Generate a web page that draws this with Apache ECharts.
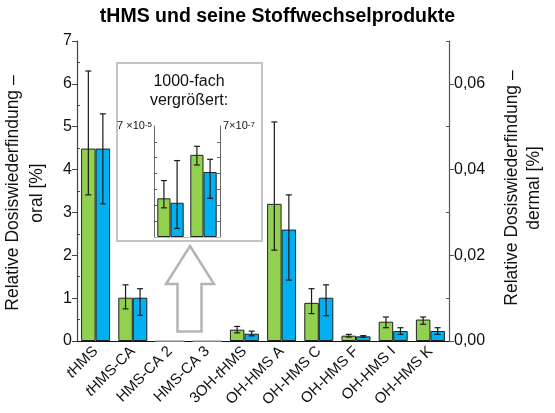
<!DOCTYPE html>
<html>
<head>
<meta charset="utf-8">
<script src="https://cdn.jsdelivr.net/npm/echarts@6/dist/echarts.min.js"></script>
<style>html,body{margin:0;padding:0;background:#fff}#c{width:555px;height:413px}</style>
</head>
<body>
<div id="c"></div>
<script>
const categories = ['tHMS','tHMS-CA','HMS-CA 2','HMS-CA 3','3OH-tHMS','OH-HMS A','OH-HMS C','OH-HMS F','OH-HMS I','OH-HMS K'];
const oralMean   = [4.49, 1.01, 2.44e-5, 5.18e-5, 0.264, 3.20, 0.89, 0.124, 0.45, 0.50];
const oralLow    = [3.41, 0.75, 1.84e-5, 4.54e-5, 0.19, 2.12, 0.64, 0.093, 0.31, 0.39];
const oralHigh   = [6.30, 1.31, 3.56e-5, 5.72e-5, 0.34, 5.11, 1.22, 0.155, 0.56, 0.56];
const dermalMean = [0.0449, 0.0101, 2.16e-7, 4.10e-7, 0.0017, 0.0260, 0.0101, 0.00109, 0.00233, 0.00233];
const dermalLow  = [0.0320, 0.0060, 0.54e-7, 2.44e-7, 0.0012, 0.0142, 0.0059, 0.00090, 0.00155, 0.00155];
const dermalHigh = [0.0530, 0.0122, 4.82e-7, 4.90e-7, 0.0023, 0.0341, 0.0131, 0.00125, 0.0031, 0.0031];
const insetIdx = [2, 3];
const leftMajorTicks = [0,1,2,3,4,5,6,7];
const leftMinorTicks = [0.5,1.5,2.5,3.5,4.5,5.5,6.5];
const rightMajorTicks = [0, 0.02, 0.04, 0.06];
const rightMinorTicks = [0.01, 0.03, 0.05, 0.07];
const insetOralMax = 7e-5;
const insetDermalMax = 7e-7;
const insetTickUnits = [1,2,3,4,5,6];

const FONT = '"Liberation Sans", Arial, sans-serif';
const GREEN = '#92d050', BLUE = '#00b0f0';
const BAR_FRAC = 0.39, INSET_FRAC = 0.40;

function errRender(side, frac, skip) {
  return function (params, api) {
    const idx = api.value(0);
    if (skip && skip.indexOf(idx) >= 0) return null;
    const lo = api.coord([idx, api.value(1)]);
    const hi = api.coord([idx, api.value(2)]);
    const band = api.size([1, 0])[0];
    const x = lo[0] + side * band * frac / 2;
    const cap = 3;
    const style = { stroke: '#1a1a1a', lineWidth: 1.2 };
    return { type: 'group', children: [
      { type: 'line', shape: { x1: x, y1: lo[1], x2: x, y2: hi[1] }, style },
      { type: 'line', shape: { x1: x - cap, y1: hi[1], x2: x + cap, y2: hi[1] }, style },
      { type: 'line', shape: { x1: x - cap, y1: lo[1], x2: x + cap, y2: lo[1] }, style }
    ]};
  };
}

const mainOral = oralMean.map((v, i) => insetIdx.includes(i) ? { value: v, itemStyle: { borderColor: '#b0b0b0' } } : v);
const mainDermal = dermalMean.map((v, i) => insetIdx.includes(i) ? { value: v, itemStyle: { borderColor: '#b0b0b0' } } : v);

const chart = echarts.init(document.getElementById('c'), null, { renderer: 'canvas' });
chart.setOption({
  animation: false,
  textStyle: { fontFamily: FONT },
  title: { text: 'tHMS und seine Stoffwechselprodukte', left: 'center', top: 2,
    textStyle: { fontFamily: FONT, fontSize: 19.5, fontWeight: 'bold', color: '#000' } },
  grid: [
    { left: 77, top: 41, width: 372, height: 300 },
    { left: 154, top: 126, width: 66, height: 111 }
  ],
  xAxis: [
    { type: 'category', gridIndex: 0, data: categories,
      axisLine: { lineStyle: { color: '#111', width: 1.2 } },
      axisTick: { show: false },
      axisLabel: { rotate: 45, margin: 8, fontSize: 15, color: '#111', fontFamily: FONT, interval: 0,
        formatter: v => v.replace(/(^|-)t(?=HMS)/, '$1{i|t}'),
        rich: { i: { fontStyle: 'italic', fontSize: 15, color: '#111', fontFamily: FONT } } } },
    { type: 'category', gridIndex: 1, data: insetIdx.map(i => categories[i]),
      axisLine: { lineStyle: { color: '#bbb', width: 1 } },
      axisTick: { show: false }, axisLabel: { show: false } }
  ],
  yAxis: [
    { type: 'value', gridIndex: 0, position: 'left', min: 0, max: 7, interval: 1,
      splitLine: { show: false },
      axisLine: { show: true, lineStyle: { color: '#444', width: 1.2 } },
      axisTick: { show: true, length: 5, lineStyle: { color: '#444' } },
      axisLabel: { fontSize: 16, color: '#111', margin: 5, fontFamily: FONT, customValues: leftMajorTicks } },
    { type: 'value', gridIndex: 0, position: 'right', min: 0, max: 0.07,
      splitLine: { show: false },
      axisLine: { show: true, lineStyle: { color: '#555', width: 1.2 } },
      axisTick: { show: true, length: 5, lineStyle: { color: '#555' }, customValues: rightMajorTicks },
      axisLabel: { fontSize: 16, color: '#111', margin: 5, fontFamily: FONT, customValues: rightMajorTicks,
        formatter: v => v.toFixed(2).replace('.', ',') } },
    { type: 'value', gridIndex: 0, position: 'left', min: 0, max: 7,
      splitLine: { show: false }, axisLine: { show: false },
      axisTick: { show: true, inside: true, length: 3, lineStyle: { color: '#444' }, customValues: leftMinorTicks },
      axisLabel: { show: false } },
    { type: 'value', gridIndex: 0, position: 'right', min: 0, max: 0.07,
      splitLine: { show: false }, axisLine: { show: false },
      axisTick: { show: true, inside: true, length: 3, lineStyle: { color: '#555' }, customValues: rightMinorTicks },
      axisLabel: { show: false } },
    { type: 'value', gridIndex: 1, position: 'left', min: 0, max: insetOralMax,
      splitLine: { show: false },
      axisLine: { show: true, lineStyle: { color: '#666', width: 1 } },
      axisTick: { show: true, inside: true, length: 3, lineStyle: { color: '#666' },
        customValues: insetTickUnits.map(u => u * insetOralMax / 7) },
      axisLabel: { customValues: [insetOralMax], margin: 2, color: '#111', fontFamily: FONT,
        formatter: () => '{b|7 ×10}{s|-5}',
        rich: { b: { fontSize: 11, color: '#111', fontFamily: FONT }, s: { fontSize: 8, color: '#111', fontFamily: FONT, verticalAlign: 'top' } } } },
    { type: 'value', gridIndex: 1, position: 'right', min: 0, max: insetDermalMax,
      splitLine: { show: false },
      axisLine: { show: true, lineStyle: { color: '#666', width: 1 } },
      axisTick: { show: true, inside: true, length: 3, lineStyle: { color: '#666' },
        customValues: insetTickUnits.map(u => u * insetDermalMax / 7) },
      axisLabel: { customValues: [insetDermalMax], margin: 3, color: '#111', fontFamily: FONT,
        formatter: () => '{b|7×10}{s|-7}',
        rich: { b: { fontSize: 11, color: '#111', fontFamily: FONT }, s: { fontSize: 8, color: '#111', fontFamily: FONT, verticalAlign: 'top' } } } }
  ],
  graphic: [
    { type: 'rect', z: 0, shape: { x: 117, y: 63, width: 145, height: 178 },
      style: { fill: 'none', stroke: '#c3c3c3', lineWidth: 2 } },
    { type: 'text', x: 189, y: 82, style: { text: '1000-fach', font: '16px ' + FONT, fill: '#111', align: 'center', verticalAlign: 'middle' } },
    { type: 'text', x: 189, y: 101, style: { text: 'vergrößert:', font: '16px ' + FONT, fill: '#111', align: 'center', verticalAlign: 'middle' } },
    { type: 'polygon', shape: { points: [[190,246],[214,284],[201.5,284],[201.5,331.5],[177.5,331.5],[177.5,284],[166,284]] },
      style: { fill: '#fff', stroke: '#b4b4b4', lineWidth: 2.5 } },
    { type: 'text', x: 25, y: 193, rotation: Math.PI / 2,
      style: { text: 'Relative Dosiswiederfindung –\noral [%]', font: '17.5px ' + FONT, fill: '#111', align: 'center', verticalAlign: 'middle', lineHeight: 24 } },
    { type: 'text', x: 523.5, y: 188, rotation: Math.PI / 2,
      style: { text: 'Relative Dosiswiederfindung –\ndermal [%]', font: '17.5px ' + FONT, fill: '#111', align: 'center', verticalAlign: 'middle', lineHeight: 22 } }
  ],
  series: [
    { type: 'bar', xAxisIndex: 0, yAxisIndex: 0, data: mainOral, barWidth: (BAR_FRAC * 100) + '%', barGap: '0%',
      itemStyle: { color: GREEN, borderColor: '#222', borderWidth: 1 } },
    { type: 'bar', xAxisIndex: 0, yAxisIndex: 1, data: mainDermal, barWidth: (BAR_FRAC * 100) + '%', barGap: '0%',
      itemStyle: { color: BLUE, borderColor: '#222', borderWidth: 1 } },
    { type: 'custom', xAxisIndex: 0, yAxisIndex: 0, z: 5, renderItem: errRender(-1, BAR_FRAC, insetIdx),
      data: categories.map((c, i) => [i, oralLow[i], oralHigh[i]]) },
    { type: 'custom', xAxisIndex: 0, yAxisIndex: 1, z: 5, renderItem: errRender(1, BAR_FRAC, insetIdx),
      data: categories.map((c, i) => [i, dermalLow[i], dermalHigh[i]]) },
    { type: 'bar', xAxisIndex: 1, yAxisIndex: 4, data: insetIdx.map(i => oralMean[i]), barWidth: (INSET_FRAC * 100) + '%', barGap: '0%',
      itemStyle: { color: GREEN, borderColor: '#222', borderWidth: 1 } },
    { type: 'bar', xAxisIndex: 1, yAxisIndex: 5, data: insetIdx.map(i => dermalMean[i]), barWidth: (INSET_FRAC * 100) + '%', barGap: '0%',
      itemStyle: { color: BLUE, borderColor: '#222', borderWidth: 1 } },
    { type: 'custom', xAxisIndex: 1, yAxisIndex: 4, z: 5, renderItem: errRender(-1, INSET_FRAC),
      data: insetIdx.map((i, k) => [k, oralLow[i], oralHigh[i]]) },
    { type: 'custom', xAxisIndex: 1, yAxisIndex: 5, z: 5, renderItem: errRender(1, INSET_FRAC),
      data: insetIdx.map((i, k) => [k, dermalLow[i], dermalHigh[i]]) }
  ]
});
</script>
</body>
</html>
